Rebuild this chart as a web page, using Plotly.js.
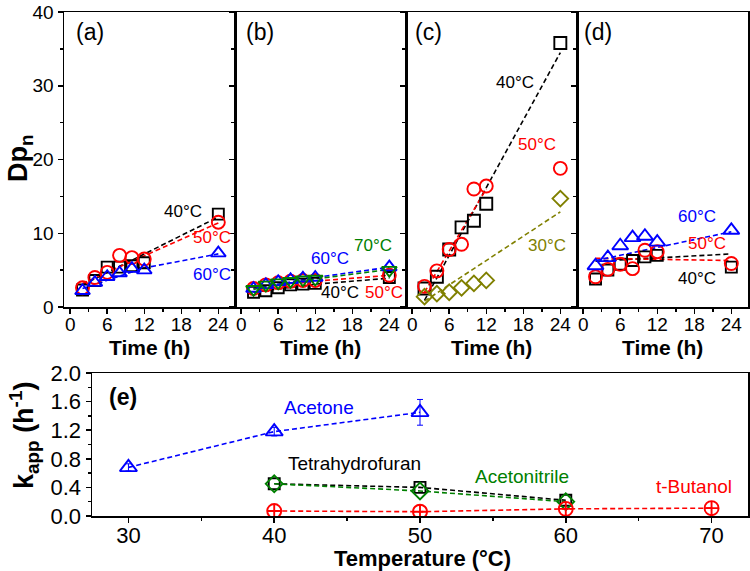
<!DOCTYPE html>
<html><head><meta charset="utf-8">
<script src="https://cdn.plot.ly/plotly-3.0.1.min.js"></script>
<style>body{margin:0;background:#fff}#chart{width:750px;height:571px}</style>
</head><body><div id="chart"></div>
<script>
// ---------- data ----------
const time = [2, 4, 6, 8, 10, 12, 24];
// panel (a)
const a40 = [2.3, 3.6, 5.4, 5.4, 5.6, 6.0, 12.6];
const a50 = [2.6, 4.0, 4.7, 7.0, 6.7, 6.5, 11.5];
const a60 = [2.2, 3.3, 4.1, 4.6, 5.2, 5.0, 7.3];
// panel (b)
const b40 = [2.0, 2.2, 2.6, 3.0, 3.1, 3.2, 4.0];
const b50 = [2.5, 3.0, 3.3, 3.5, 3.6, 3.6, 4.3];
const b60 = [2.5, 3.0, 3.4, 3.7, 3.9, 4.0, 5.4];
const b70 = [2.4, 3.0, 3.3, 3.5, 3.7, 3.8, 5.0];
// panel (c)
const c40 = [2.5, 4.1, 7.8, 10.8, 11.7, 14.0, 35.8];
const c50 = [2.8, 4.9, 7.8, 8.5, 16.0, 16.4, 18.8];
const c30 = [1.4, 1.8, 2.0, 2.6, 3.2, 3.6, 14.7];
// panel (d)
const d40 = [3.8, 5.0, 5.8, 6.3, 6.8, 7.0, 5.4];
const d50 = [4.1, 5.1, 5.8, 5.2, 7.7, 7.5, 5.9];
const d60 = [5.6, 6.7, 8.3, 9.4, 9.6, 8.8, 10.4];
// fitted (dashed) lines
const fitTime = [2, 24];
const fitTimeMid = [2, 12, 24];
const fitA40 = [3.0, 12.2];
const fitA50 = [3.2, 11.4];
const fitA60 = [2.5, 5.3, 7.2];
const fitB40 = [2.0, 3.1, 3.9];
const fitB50 = [2.5, 3.5, 4.3];
const fitB60 = [2.5, 4.0, 5.4];
const fitB70 = [2.4, 3.8, 5.1];
const fitC40 = [0.9, 34.5];
const fitC50Time = [2, 12];
const fitC50 = [2.0, 16.0];
const fitC30 = [0.8, 12.9];
const fitD40 = [6.2, 7.2];
const fitD50 = [6.6, 6.3];
const fitD60 = [6.3, 10.2];
// panel (e)
const tempAcetone = [30, 40, 50];
const kAcetone = [0.68, 1.18, 1.45];
const errAcetone = [0.05, 0.06, 0.18];
const tempTHF = [40, 50, 60];
const kTHF = [0.45, 0.40, 0.22];
const tempACN = [40, 50, 60];
const kACN = [0.45, 0.35, 0.20];
const tempTBuOH = [40, 50, 60, 70];
const kTBuOH = [0.07, 0.06, 0.10, 0.11];
const xTicksTime = [0, 6, 12, 18, 24];
const yTicksDp = [0, 10, 20, 30, 40];
const yTicksK = [0, 0.4, 0.8, 1.2, 1.6, 2.0];
const xTicksTemp = [30, 40, 50, 60, 70];

// ---------- style ----------
const FONT = 'Liberation Sans, Arial, sans-serif';
const BLACK = '#000000', RED = '#ff0000', BLUE = '#0000ff', GREEN = '#008000', OLIVE = '#808000';
const DASH = '5px,3px';

function pts(x, y, color, symbol, size, xa, ya) {
  return {x, y, xaxis: xa, yaxis: ya, mode: 'markers', type: 'scatter',
    marker: {symbol, size, color, line: {color, width: 1.9}}, hoverinfo: 'skip'};
}
function fit(x, y, color, xa, ya) {
  return {x, y, xaxis: xa, yaxis: ya, mode: 'lines', type: 'scatter',
    line: {color, width: 1.6, dash: DASH}, hoverinfo: 'skip'};
}

const traces = [
  // (a)
  fit(fitTime, fitA40, BLACK, 'x', 'y'),
  fit(fitTime, fitA50, RED, 'x', 'y'),
  fit(fitTimeMid, fitA60, BLUE, 'x', 'y'),
  pts(time, a40, BLACK, 'square-open', 11, 'x', 'y'),
  pts(time, a50, RED, 'circle-open', 13, 'x', 'y'),
  pts(time, a60, BLUE, 'triangle-up-open', 13, 'x', 'y'),
  // (b)
  fit(fitTimeMid, fitB40, BLACK, 'x2', 'y2'),
  fit(fitTimeMid, fitB50, RED, 'x2', 'y2'),
  fit(fitTimeMid, fitB60, BLUE, 'x2', 'y2'),
  fit(fitTimeMid, fitB70, GREEN, 'x2', 'y2'),
  pts(time, b40, BLACK, 'square-open', 11, 'x2', 'y2'),
  pts(time, b50, RED, 'circle-open', 13, 'x2', 'y2'),
  pts(time, b60, BLUE, 'triangle-up-open', 13, 'x2', 'y2'),
  pts(time, b70, GREEN, 'triangle-down-open', 13, 'x2', 'y2'),
  // (c)
  fit(fitTime, fitC40, BLACK, 'x3', 'y3'),
  fit(fitC50Time, fitC50, RED, 'x3', 'y3'),
  fit(fitTime, fitC30, OLIVE, 'x3', 'y3'),
  pts(time, c40, BLACK, 'square-open', 12, 'x3', 'y3'),
  pts(time, c50, RED, 'circle-open', 13, 'x3', 'y3'),
  pts(time, c30, OLIVE, 'diamond-open', 12, 'x3', 'y3'),
  // (d)
  fit(fitTime, fitD40, BLACK, 'x4', 'y4'),
  fit(fitTime, fitD50, RED, 'x4', 'y4'),
  fit(fitTime, fitD60, BLUE, 'x4', 'y4'),
  pts(time, d40, BLACK, 'square-open', 11, 'x4', 'y4'),
  pts(time, d50, RED, 'circle-open', 13, 'x4', 'y4'),
  pts(time, d60, BLUE, 'triangle-up-open', 14, 'x4', 'y4'),
  // (e)
  {x: tempAcetone, y: kAcetone, xaxis: 'x5', yaxis: 'y5', mode: 'lines+markers', type: 'scatter',
   line: {color: BLUE, width: 1.6, dash: DASH},
   marker: {symbol: 'triangle-up-open', size: 15, color: BLUE, line: {color: BLUE, width: 1.9}},
   error_y: {type: 'data', array: errAcetone, color: BLUE, thickness: 1, width: 3}},
  {x: tempTHF, y: kTHF, xaxis: 'x5', yaxis: 'y5', mode: 'lines+markers', type: 'scatter',
   line: {color: BLACK, width: 1.6, dash: DASH},
   marker: {symbol: 'square-open', size: 11, color: BLACK, line: {color: BLACK, width: 1.9}}},
  {x: tempACN, y: kACN, xaxis: 'x5', yaxis: 'y5', mode: 'lines+markers', type: 'scatter',
   line: {color: GREEN, width: 1.6, dash: DASH},
   marker: {symbol: 'diamond-open', size: 13, color: GREEN, line: {color: GREEN, width: 1.9}}},
  {x: tempTBuOH, y: kTBuOH, xaxis: 'x5', yaxis: 'y5', mode: 'lines+markers', type: 'scatter',
   line: {color: RED, width: 1.6, dash: DASH},
   marker: {symbol: 'circle-cross-open', size: 14, color: RED, line: {color: RED, width: 1.9}}}
];

// ---------- layout ----------
const ML = 64, MR = 2, MT = 12, MB = 55;
const W = 750 - ML - MR, H = 571 - MT - MB; // plot area after margins
const BOTTOM = 571 - MB;
const topY = [(BOTTOM - 307) / H, 1];
function px(a, b) { return [(a - ML) / W, (b - ML) / W]; }
const paperX = v => (v - ML) / W;
const paperY = v => (BOTTOM - v) / H;

const minorTicks = d => ({dtick: d, tick0: 0, ticks: 'outside', ticklen: 3, tickwidth: 1.5, tickcolor: '#000'});
const axLine = {showline: true, linecolor: '#000', linewidth: 1.5, mirror: true,
  ticks: 'outside', ticklen: 5, tickwidth: 1.5, tickcolor: '#000',
  showgrid: false, zeroline: false, fixedrange: true, ticklabeloverflow: 'allow',
  tickfont: {family: FONT, size: 19, color: '#000'}};

function timeAxis(domain, anchor) {
  return Object.assign({}, axLine, {domain, anchor, range: [-1, 26.7],
    tickmode: 'array', tickvals: xTicksTime, ticklabelstandoff: -5, minor: minorTicks(3)});
}
function dpAxis(anchor, labels) {
  return Object.assign({}, axLine, {domain: topY, anchor, range: [0, 40],
    tickmode: 'array', tickvals: yTicksDp, showticklabels: labels, minor: minorTicks(5)});
}

const tfont = (c, s) => ({family: FONT, size: s || 17, color: c});
function lab(text, x, y, xr, yr, color, size) {
  return {text, x, y, xref: xr, yref: yr, showarrow: false, font: tfont(color, size), xanchor: 'center', yanchor: 'middle'};
}
function paperLab(text, pxX, pxY, size, angle) {
  return {text, x: paperX(pxX), y: paperY(pxY), xref: 'paper', yref: 'paper', showarrow: false,
    font: tfont(BLACK, size), xanchor: 'center', yanchor: 'middle', textangle: angle || 0};
}

const annotations = [
  lab('(a)', 3.2, 37.3, 'x', 'y', BLACK, 23),
  lab('(b)', 3.1, 37.3, 'x2', 'y2', BLACK, 23),
  lab('(c)', 2.6, 37.3, 'x3', 'y3', BLACK, 23),
  lab('(d)', 2.4, 37.3, 'x4', 'y4', BLACK, 23),
  lab('40°C', 18.3, 13.0, 'x', 'y', BLACK),
  lab('50°C', 23.0, 9.4, 'x', 'y', RED),
  lab('60°C', 23.0, 4.4, 'x', 'y', BLUE),
  lab('70°C', 21.3, 8.3, 'x2', 'y2', GREEN),
  lab('60°C', 14.4, 6.6, 'x2', 'y2', BLUE),
  lab('40°C', 16.0, 2.0, 'x2', 'y2', BLACK),
  lab('50°C', 23.2, 2.0, 'x2', 'y2', RED),
  lab('40°C', 16.6, 30.5, 'x3', 'y3', BLACK),
  lab('50°C', 20.3, 22.0, 'x3', 'y3', RED),
  lab('30°C', 21.9, 8.3, 'x3', 'y3', OLIVE),
  lab('60°C', 18.4, 12.3, 'x4', 'y4', BLUE),
  lab('50°C', 20.0, 8.6, 'x4', 'y4', RED),
  lab('40°C', 18.4, 3.9, 'x4', 'y4', BLACK),
  lab('<b>(e)</b>', 29.6, 1.67, 'x5', 'y5', BLACK, 23),
  lab('Acetone', 43.1, 1.52, 'x5', 'y5', BLUE, 19),
  lab('Tetrahydrofuran', 45.5, 0.74, 'x5', 'y5', BLACK, 19),
  lab('Acetonitrile', 57.0, 0.55, 'x5', 'y5', GREEN, 19),
  lab('t-Butanol', 68.8, 0.41, 'x5', 'y5', RED, 19),
  // axis titles
  paperLab('<b>Dp<sub>n</sub></b>', 20, 158, 27, -90),
  paperLab('<b>Time (h)</b>', 149.5, 347, 21),
  paperLab('<b>Time (h)</b>', 320.5, 347, 21),
  paperLab('<b>Time (h)</b>', 491.5, 347, 21),
  paperLab('<b>Time (h)</b>', 662.5, 347, 21),
  paperLab('<b>k<sub>app</sub> (h<sup>-1</sup>)</b>', 24, 436, 27, -90),
  paperLab('<b>Temperature (°C)</b>', 422, 558, 22)
];

const layout = {
  width: 750, height: 571,
  margin: {l: ML, r: MR, t: MT, b: MB},
  paper_bgcolor: '#fff', plot_bgcolor: '#fff',
  showlegend: false, hovermode: false,
  font: {family: FONT, color: '#000'},
  xaxis: timeAxis(px(64, 235), 'y'),
  xaxis2: timeAxis(px(235, 406), 'y2'),
  xaxis3: timeAxis(px(406, 577), 'y3'),
  xaxis4: timeAxis(px(577, 748), 'y4'),
  yaxis: dpAxis('x', true),
  yaxis2: dpAxis('x2', false),
  yaxis3: dpAxis('x3', false),
  yaxis4: dpAxis('x4', false),
  xaxis5: Object.assign({}, axLine, {domain: px(92, 748), anchor: 'y5', range: [27.5, 72.5],
    tickmode: 'array', tickvals: xTicksTemp, ticklabelstandoff: -6,
    tickfont: {family: FONT, size: 22, color: '#000'}, minor: minorTicks(5)}),
  yaxis5: Object.assign({}, axLine, {domain: [0, paperY(373)], anchor: 'x5', range: [0, 2],
    tickmode: 'array', tickvals: yTicksK, tickformat: '.1f',
    tickfont: {family: FONT, size: 22, color: '#000'}, minor: minorTicks(0.2)}),
  annotations
};

Plotly.newPlot('chart', traces, layout, {staticPlot: true, displayModeBar: false});
</script>
</body></html>
